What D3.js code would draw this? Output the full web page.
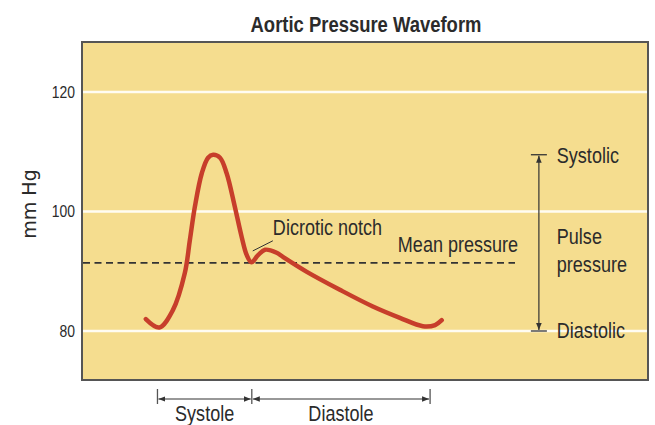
<!DOCTYPE html>
<html>
<head>
<meta charset="utf-8">
<script src="https://cdn.jsdelivr.net/npm/d3@7"></script>
<style>
  body { margin: 0; background: #fff; }
  svg { display: block; }
  .narrow { font-family: "Liberation Sans", Arial, sans-serif; fill: #2b2b2b; }
</style>
</head>
<body>
<div id="chart"></div>
<script>
// waveform samples: time (s) and pressure (mm Hg)
const timeS = [-0.037, 0.006, 0.049, 0.087, 0.103, 0.119, 0.141, 0.161, 0.177, 0.199, 0.220, 0.246, 0.268, 0.284, 0.299, 0.320, 0.342, 0.379, 0.399, 0.475, 0.580, 0.685, 0.771, 0.844, 0.883, 0.904];
const pressure = [82.0, 80.6, 83.5, 89.7, 95.2, 100.8, 106.4, 109.0, 109.5, 109.0, 106.4, 100.8, 95.7, 92.7, 91.5, 92.7, 93.6, 93.1, 92.4, 89.9, 86.9, 84.1, 82.2, 80.8, 81.0, 81.8];

const yTicks = [80, 100, 120];
const meanPressure = 91.4;
const systolicP = 109.5;
const diastolicP = 80;
const phaseNames = ["Systole", "Diastole"];
const phaseStart = [0, 0.30];
const phaseEnd = [0.30, 0.867];

const width = 655, height = 425;
const plot = {left: 82, right: 648, top: 42, bottom: 380};
const squeeze = 0.82; // condensed look

const x = d3.scaleLinear().domain([-0.24, 1.56]).range([plot.left, plot.right]);
const y = d3.scaleLinear().domain([80, 120]).range([331, 92]);

const svg = d3.select("#chart").append("svg")
    .attr("width", width)
    .attr("height", height);

function label(tx, ty, str, size, anchor, weight) {
    return svg.append("text")
        .attr("class", "narrow")
        .attr("transform", `translate(${tx},${ty}) scale(${squeeze},1)`)
        .attr("text-anchor", anchor || "start")
        .style("font-size", size + "px")
        .style("font-weight", weight || "normal")
        .text(str);
}

const defs = svg.append("defs");
defs.append("marker")
    .attr("id", "arrow")
    .attr("viewBox", "0 0 10 10")
    .attr("refX", 10).attr("refY", 5)
    .attr("markerWidth", 7).attr("markerHeight", 7)
    .attr("markerUnits", "userSpaceOnUse")
    .attr("orient", "auto-start-reverse")
    .append("path")
    .attr("d", "M0,1 L10,5 L0,9 Z")
    .attr("fill", "#333");

// title
label(366, 32, "Aortic Pressure Waveform", 22.5, "middle", "bold");

// plot background
svg.append("rect")
    .attr("x", plot.left).attr("y", plot.top)
    .attr("width", plot.right - plot.left)
    .attr("height", plot.bottom - plot.top)
    .attr("fill", "#f5dd8f");

// gridlines
svg.selectAll(".grid")
    .data(yTicks)
    .enter()
    .append("line")
    .attr("x1", plot.left).attr("x2", plot.right)
    .attr("y1", d => y(d)).attr("y2", d => y(d))
    .attr("stroke", "#fffcf2")
    .attr("stroke-width", 2.5);

// frame
svg.append("rect")
    .attr("x", plot.left).attr("y", plot.top)
    .attr("width", plot.right - plot.left)
    .attr("height", plot.bottom - plot.top)
    .attr("fill", "none")
    .attr("stroke", "#555")
    .attr("stroke-width", 2);

// y axis labels
const yAxis = d3.axisLeft(y).tickValues(yTicks).tickSize(0).tickPadding(0);
const gy = svg.append("g")
    .attr("transform", `translate(${plot.left - 7},0)`)
    .call(yAxis);
gy.select(".domain").remove();
gy.selectAll("text")
    .attr("class", "narrow")
    .attr("x", null)
    .attr("transform", `scale(${squeeze},1)`)
    .style("font-size", "17px");

svg.append("text")
    .attr("transform", `translate(36,204) rotate(-90)`)
    .attr("text-anchor", "middle")
    .style("font-family", "'DejaVu Sans', sans-serif")
    .style("font-size", "19px")
    .attr("fill", "#2b2b2b")
    .text("mm Hg");

// mean pressure dashed line
svg.append("line")
    .attr("x1", plot.left + 1).attr("x2", x(1.137))
    .attr("y1", y(meanPressure)).attr("y2", y(meanPressure))
    .attr("stroke", "#333")
    .attr("stroke-width", 1.6)
    .attr("stroke-dasharray", "7,4.5");

label(x(1.147), y(93.3), "Mean pressure", 22, "end");

// waveform
const line = d3.line()
    .x(d => x(d[0]))
    .y(d => y(d[1]))
    .curve(d3.curveCatmullRom.alpha(0.5));

svg.append("path")
    .datum(timeS.map((t, i) => [t, pressure[i]]))
    .attr("d", line)
    .attr("fill", "none")
    .attr("stroke", "#c73e2b")
    .attr("stroke-width", 4.5)
    .attr("stroke-linecap", "round");

// dicrotic notch label
svg.append("line")
    .attr("x1", x(0.367)).attr("y1", y(95.1))
    .attr("x2", x(0.303)).attr("y2", y(93.4))
    .attr("stroke", "#333")
    .attr("stroke-width", 1);
label(x(0.367), y(96.1), "Dicrotic notch", 22);

// pulse pressure bracket
const px = x(1.213);
[systolicP, diastolicP].forEach(v => {
    svg.append("line")
        .attr("x1", px - 8).attr("x2", px + 8)
        .attr("y1", y(v)).attr("y2", y(v))
        .attr("stroke", "#333").attr("stroke-width", 1.3);
});
svg.append("line")
    .attr("x1", px).attr("x2", px)
    .attr("y1", y(systolicP) + 1).attr("y2", y(diastolicP) - 1)
    .attr("stroke", "#333").attr("stroke-width", 1.2)
    .attr("marker-start", "url(#arrow)")
    .attr("marker-end", "url(#arrow)");

const rightText = ["Systolic", "Pulse", "pressure", "Diastolic"];
const rightValue = [systolicP - 1.3, 94.5, 89.8, diastolicP - 1.2];
rightText.forEach((t, i) => label(x(1.27), y(rightValue[i]), t, 22));

// systole / diastole brackets
const by = 399;
phaseNames.forEach((name, i) => {
    svg.append("line")
        .attr("x1", x(phaseStart[i]) + 1).attr("x2", x(phaseEnd[i]) - 1)
        .attr("y1", by).attr("y2", by)
        .attr("stroke", "#333").attr("stroke-width", 1.2)
        .attr("marker-start", "url(#arrow)")
        .attr("marker-end", "url(#arrow)");
    label((x(phaseStart[i]) + x(phaseEnd[i])) / 2, 421, name, 22, "middle");
});
const bounds = [phaseStart[0], phaseStart[1], phaseEnd[1]];
svg.selectAll(".btick")
    .data(bounds)
    .enter()
    .append("line")
    .attr("x1", d => x(d)).attr("x2", d => x(d))
    .attr("y1", 389).attr("y2", 404)
    .attr("stroke", "#555").attr("stroke-width", 1.3);
</script>
</body>
</html>
